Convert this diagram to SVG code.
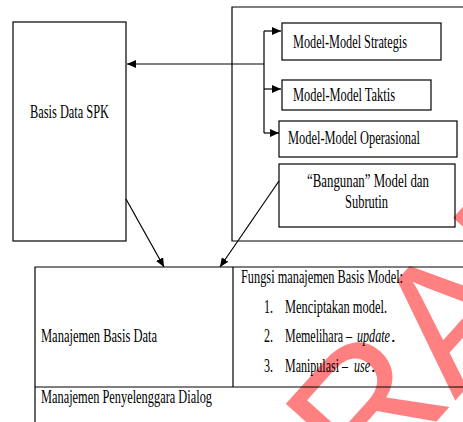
<svg xmlns="http://www.w3.org/2000/svg" width="463" height="422" viewBox="0 0 463 422">
  <style>
    .box { fill: none; stroke: #000; stroke-width: 1.2; }
    .ln { fill: none; stroke: #000; stroke-width: 1.2; }
    .t { font-size: 18px; fill: #000; }
    .it { font-style: italic; }
    .mark { font-size: 180px; fill: #ff8080; }
  </style>
  <defs>
    <marker id="head" markerUnits="userSpaceOnUse" markerWidth="10" markerHeight="8" refX="9" refY="4" orient="auto">
      <path d="M0,0 L9,4 L0,8 Z" fill="#000"/>
    </marker>
  </defs>

  <rect width="463" height="422" fill="#fff"/>

  <!-- watermark behind the diagram -->
  <text class="mark" font-family="Liberation Sans, Arial, sans-serif" x="281" y="594" transform="rotate(-48 281 594)">DRAFT</text>

  <g font-family="Liberation Serif, Times New Roman, serif">
    <g id="basis-data-spk">
      <rect class="box" x="13" y="22" width="113" height="219"/>
      <text class="t" x="30" y="118" textLength="79" lengthAdjust="spacingAndGlyphs">Basis Data SPK</text>
    </g>

    <g id="basis-model">
      <path class="box" d="M470,7 H232 V241 H470"/>
    </g>

    <g id="model-strategis">
      <rect class="box" x="282" y="23" width="159" height="37"/>
      <text class="t" x="293" y="47.5" textLength="114" lengthAdjust="spacingAndGlyphs">Model-Model Strategis</text>
    </g>

    <g id="model-taktis">
      <rect class="box" x="282" y="80" width="149" height="30"/>
      <text class="t" x="293" y="101" textLength="102" lengthAdjust="spacingAndGlyphs">Model-Model Taktis</text>
    </g>

    <g id="model-operasional">
      <rect class="box" x="279" y="121" width="178" height="36"/>
      <text class="t" x="288" y="144" textLength="132" lengthAdjust="spacingAndGlyphs">Model-Model Operasional</text>
    </g>

    <g id="bangunan-model">
      <rect class="box" x="279" y="164" width="176" height="63"/>
      <text class="t" x="307" y="186.5" textLength="122" lengthAdjust="spacingAndGlyphs">“Bangunan” Model dan</text>
      <text class="t" x="345" y="208" textLength="43" lengthAdjust="spacingAndGlyphs">Subrutin</text>
    </g>

    <g id="manajemen-basis-data">
      <path class="box" d="M35,422 V267 H470 M233,267 V387 M35,387 H470"/>
      <text class="t" x="41" y="341.5" textLength="116" lengthAdjust="spacingAndGlyphs">Manajemen Basis Data</text>
    </g>

    <g id="fungsi-basis-model">
      <text class="t" x="241" y="282.5" textLength="162" lengthAdjust="spacingAndGlyphs">Fungsi manajemen Basis Model:</text>
      <text class="t" x="264" y="312.5" textLength="9" lengthAdjust="spacingAndGlyphs">1.</text>
      <text class="t" x="285" y="312.5" textLength="102" lengthAdjust="spacingAndGlyphs">Menciptakan model.</text>
      <text class="t" x="264" y="342" textLength="9" lengthAdjust="spacingAndGlyphs">2.</text>
      <text class="t" x="285" y="342" textLength="67" lengthAdjust="spacingAndGlyphs">Memelihara –</text>
      <text class="t it" x="357" y="342" textLength="33" lengthAdjust="spacingAndGlyphs">update</text>
      <text class="t" x="391" y="342">.</text>
      <text class="t" x="264" y="372" textLength="9" lengthAdjust="spacingAndGlyphs">3.</text>
      <text class="t" x="285" y="372" textLength="63" lengthAdjust="spacingAndGlyphs">Manipulasi –</text>
      <text class="t it" x="354" y="372" textLength="16" lengthAdjust="spacingAndGlyphs">use</text>
      <text class="t" x="371" y="372">.</text>
    </g>

    <g id="manajemen-dialog">
      <text class="t" x="41" y="403" textLength="171" lengthAdjust="spacingAndGlyphs">Manajemen Penyelenggara Dialog</text>
    </g>
  </g>

  <g id="connectors">
    <path class="ln" d="M264,31 V133"/>
    <path class="ln" d="M264,31 H281" marker-end="url(#head)"/>
    <path class="ln" d="M264,89 H281" marker-end="url(#head)"/>
    <path class="ln" d="M264,133 H279" marker-end="url(#head)"/>
    <path class="ln" d="M264,64 H127" marker-end="url(#head)"/>
    <path class="ln" d="M126,199 L164,267" marker-end="url(#head)"/>
    <path class="ln" d="M279,181 L220,267" marker-end="url(#head)"/>
  </g>
</svg>
